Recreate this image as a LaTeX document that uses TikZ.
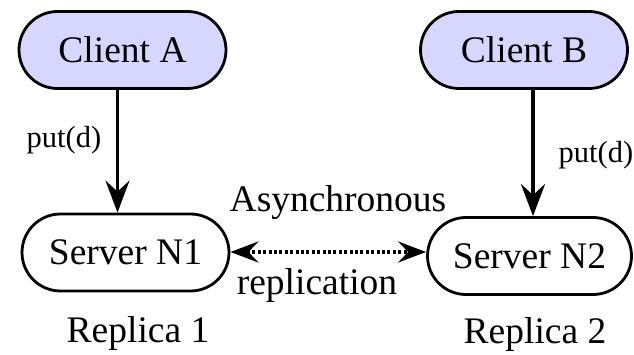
\documentclass[tikz,border=0pt]{standalone}
\usepackage{fontspec}
\setmainfont{Liberation Serif}
\usetikzlibrary{shapes.misc,arrows.meta}
\definecolor{clientfill}{RGB}{214,214,255}
\tikzset{
  pill/.style={rounded rectangle, draw=black, line width=2.8pt, inner sep=0pt,
    minimum width=#1, minimum height=77pt, font=\fontsize{37.5}{40}\selectfont},
  clientbox/.style={pill=207pt, fill=clientfill},
  serverbox/.style={pill=207pt, fill=white},
  biglabel/.style={anchor=base, inner sep=0pt, font=\fontsize{37.5}{40}\selectfont},
  smalllabel/.style={anchor=base, inner sep=0pt, font=\fontsize{30.5}{34}\selectfont},
  putarrow/.style={line width=3.2pt, -{Stealth[length=32pt,width=24pt,inset=11pt]}},
  reparrow/.style={line width=3.3pt, dash pattern=on 3pt off 2.4pt,
    {Stealth[length=28pt,width=21pt,inset=10pt]}-{Stealth[length=28pt,width=21pt,inset=10pt]}}
}
\begin{document}
\begin{tikzpicture}[x=1pt,y=-1pt]
\useasboundingbox (0,0) rectangle (634,355);
\node[clientbox] (ca) at (122.5,50) {Client A};
\node[clientbox] (cb) at (524,50) {Client B};
\node[serverbox] (s1) at (125.5,252.5) {Server N1};
\node[serverbox, minimum width=204pt] (s2) at (529.5,256) {Server N2};
\draw[putarrow] ([xshift=-5pt]ca.south) -- ([xshift=-8pt]s1.north);
\draw[putarrow] ([xshift=9pt]cb.south) -- ([xshift=3.5pt]s2.north);
\draw[reparrow] ([yshift=0.5pt]s1.east) -- ([yshift=0.5pt]s1.east -| s2.west);
\node[smalllabel] (p1) at (64,148) {put(d)};
\node[smalllabel] (p2) at (596,163) {put(d)};
\node[biglabel] (as) at (338,212) {Asynchronous};
\node[biglabel] (re) at (317,294) {replication};
\node[biglabel] (r1) at (138,342) {Replica 1};
\node[biglabel] (r2) at (535,343) {Replica 2};
\end{tikzpicture}
\end{document}
